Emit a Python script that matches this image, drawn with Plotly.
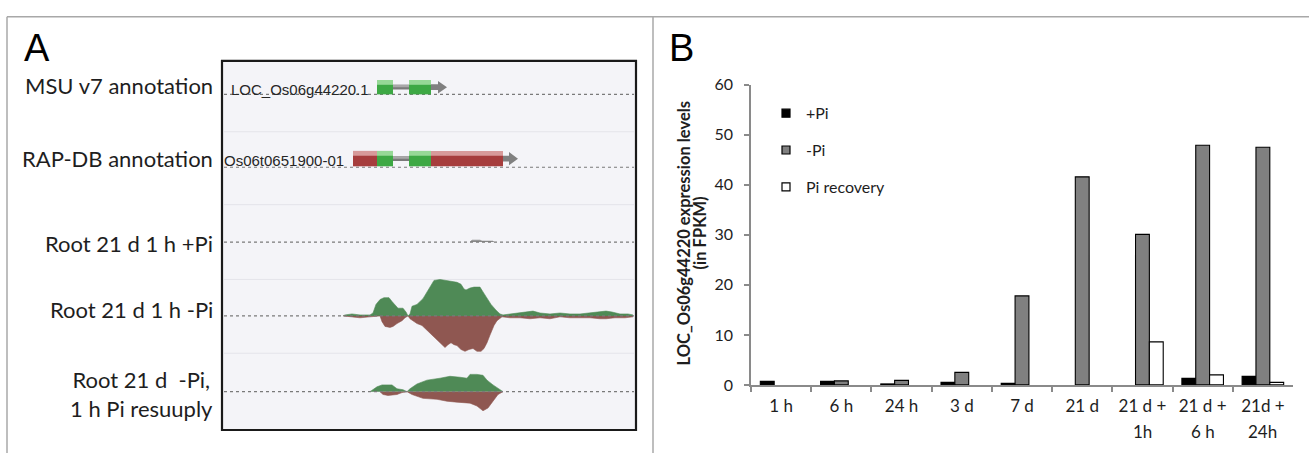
import plotly.graph_objects as go

W, H = 1309, 462

# ---------------- Panel B data ----------------
CATEGORIES = ["1 h", "6 h", "24 h", "3 d", "7 d", "21 d", "21 d +|1h", "21 d +|6 h", "21d +|24h"]
PLUS_PI = [0.7, 0.7, 0.2, 0.5, 0.3, 0.0, 0.0, 1.3, 1.7]
MINUS_PI = [0.0, 0.8, 0.9, 2.5, 17.8, 41.6, 30.1, 47.9, 47.5]
PI_RECOVERY = [0.0, 0.0, 0.0, 0.0, 0.0, 0.0, 8.6, 2.0, 0.5]
SERIES_NAMES = ["+Pi", "-Pi", "Pi recovery"]
Y_TICKS = [0, 10, 20, 30, 40, 50, 60]

# ---------------- Panel A data ----------------
TRACK_LABELS = ["MSU v7 annotation", "RAP-DB annotation", "Root 21 d 1 h +Pi",
                "Root 21 d 1 h -Pi", "Root 21 d  -Pi,<br>1 h Pi resuuply"]
MSU_NAME = "LOC_Os06g44220.1"
RAP_NAME = "Os06t0651900-01"
# exons: (start, end, kind) in browser position units
MSU_EXONS = [(377, 393, "cds"), (409, 431, "cds")]
RAP_EXONS = [(353, 377, "utr"), (377, 393, "cds"), (409, 431, "cds"), (431, 503, "utr")]

# coverage, Root 21 d 1 h -Pi (forward strand, green)
MPI_FWD_POS = [343, 345, 352, 360, 370, 373, 376, 380, 384, 389, 392, 395, 398, 403, 406, 408,
               410, 412, 417, 423, 428, 432, 434, 440, 445, 448, 452, 457, 461, 464, 466, 470,
               474, 480, 483, 487, 491, 496, 500, 503, 510, 518, 527, 533, 540, 550, 560, 570,
               580, 590, 600, 606, 612, 620, 628, 633]
MPI_FWD_COV = [0, 1, 2, 1, 1, 3, 12, 17, 19, 19, 15, 11, 8, 8, 4, 0,
               2, 10, 12, 18, 27, 34, 37, 38, 37, 37, 36, 35, 33, 28, 27, 29,
               30, 30, 25, 18, 12, 6, 2, 1, 2, 3, 4, 5, 3, 2, 3, 2,
               2, 3, 4, 5, 4, 2, 2, 1]
# reverse strand (red)
MPI_REV_POS = [343, 350, 360, 370, 380, 382, 385, 390, 393, 397, 402, 405, 408, 410, 413, 417,
               422, 427, 430, 433, 438, 441, 445, 448, 451, 454, 457, 461, 465, 469, 473, 477,
               481, 484, 487, 490, 494, 497, 502, 510, 520, 530, 540, 550, 560, 570, 580, 590,
               600, 606, 615, 625, 633]
MPI_REV_COV = [0, 1, 2, 1, 0, 6, 11, 12, 11, 8, 5, 2, 0, 3, 5, 8,
               10, 15, 17, 21, 25, 28, 33, 30, 28, 30, 31, 35, 37, 35, 34, 37,
               37, 34, 28, 20, 10, 5, 1, 2, 2, 3, 2, 3, 1, 2, 2, 2,
               3, 3, 2, 2, 1]
# coverage, Root 21 d -Pi, 1 h Pi resupply
RES_FWD_POS = [370, 377, 382, 392, 397, 403, 407, 410, 417, 427, 440, 450, 460, 467, 470, 477,
               483, 487, 493, 500, 503]
RES_FWD_COV = [0, 5, 7, 7, 3, 2, 0, 3, 8, 12, 14, 16, 15, 14, 18, 18,
               17, 12, 7, 2, 0]
RES_REV_POS = [380, 383, 388, 397, 402, 407, 412, 423, 437, 447, 457, 470, 477, 483, 488, 493,
               498, 503]
RES_REV_COV = [0, 3, 4, 3, 1, 0, 3, 7, 8, 10, 11, 12, 15, 20, 17, 10,
               3, 0]
# coverage, Root 21 d 1 h +Pi
PPI_POS = [470, 472, 480, 482, 493, 494]
PPI_COV = [0, 2, 2, 1, 1, 0]


def px(p):
    return p / W


def py(p):
    return 1 - p / H


GREEN_COV = "#4f8a56"
RED_COV = "#8f5751"
BOX = (222, 53, 636, 438)
BASELINES = {"msu": 88, "rap": 164, "ppi": 242, "mpi": 319, "res": 398}
HALF = 40

fig = go.Figure()


def cov_axis(base):
    return dict(domain=[py(base + HALF), py(base - HALF)], range=[-HALF, HALF],
                visible=False, anchor="x", fixedrange=True)


def cov_trace(pos, cov, axis, color, sign=1):
    return go.Scatter(x=pos, y=[sign * v for v in cov], xaxis="x", yaxis=axis, mode="lines",
                      fill="tozeroy", fillcolor=color,
                      line=dict(width=0.6, color=color), showlegend=False, hoverinfo="skip")


fig.add_trace(cov_trace(MPI_FWD_POS, MPI_FWD_COV, "y3", GREEN_COV))
fig.add_trace(cov_trace(MPI_REV_POS, MPI_REV_COV, "y3", RED_COV, -1))
fig.add_trace(cov_trace(RES_FWD_POS, RES_FWD_COV, "y4", GREEN_COV))
fig.add_trace(cov_trace(RES_REV_POS, RES_REV_COV, "y4", RED_COV, -1))
fig.add_trace(cov_trace(PPI_POS, PPI_COV, "y5", "#8a8a8a"))

# ---------- bars ----------
tick_top = [c.split("|")[0] for c in CATEGORIES]
tick_bottom = [c.split("|")[1] if "|" in c else "" for c in CATEGORIES]
BAR_COLORS = ["#000000", "#808080", "#ffffff"]
for name, vals, col in zip(SERIES_NAMES, [PLUS_PI, MINUS_PI, PI_RECOVERY], BAR_COLORS):
    shown = [v if v > 0 else None for v in vals]
    fig.add_trace(go.Bar(x=CATEGORIES, y=shown, name=name, xaxis="x2", yaxis="y2",
                         marker=dict(color=col, line=dict(color="#000000", width=1.1)),
                         showlegend=False))
    fig.add_trace(go.Scatter(x=[None], y=[None], mode="markers", name=name, xaxis="x2", yaxis="y2",
                             legendgroup=name,
                             marker=dict(symbol="square", size=8, color=col,
                                         line=dict(color="#000000", width=1.2))))

shapes = []
FRAME = "#a8a8a8"
shapes.append(dict(type="line", xref="paper", yref="paper", x0=px(7), x1=1, y0=py(7), y1=py(7),
                   line=dict(color=FRAME, width=1.5)))
shapes.append(dict(type="line", xref="paper", yref="paper", x0=px(7), x1=px(7), y0=0, y1=py(7),
                   line=dict(color=FRAME, width=1.5)))
shapes.append(dict(type="line", xref="paper", yref="paper", x0=px(653), x1=px(653), y0=0, y1=py(7),
                   line=dict(color=FRAME, width=1.5)))
shapes.append(dict(type="rect", xref="paper", yref="paper", x0=px(BOX[0]), x1=px(BOX[2]),
                   y0=py(BOX[3]), y1=py(BOX[1]), fillcolor="#f4f4f8",
                   line=dict(color="#1a1a1a", width=2.2), layer="below"))
for sep in [127, 203, 281, 358]:
    shapes.append(dict(type="line", xref="paper", yref="paper", x0=px(BOX[0] + 2), x1=px(BOX[2] - 2),
                       y0=py(sep), y1=py(sep), line=dict(color="#e4e4ea", width=1), layer="below"))
for key, b in BASELINES.items():
    shapes.append(dict(type="line", xref="paper", yref="paper", x0=px(BOX[0] + 2), x1=px(BOX[2] - 2),
                       y0=py(b), y1=py(b), line=dict(color="#7a7a7a", width=1.2, dash="dot"),
                       layer="above"))

COLORS = {"cds": ("#3da844", "#96d896"), "utr": ("#a63d3d", "#d79a9a")}


def gene_model(exons, top, bottom, arrow_end):
    mid = (top + bottom) / 2
    s = []
    first, last = exons[0][0], exons[-1][1]
    s.append(dict(type="rect", xref="x", yref="paper", x0=first, x1=last,
                  y0=py(mid + 2.5), y1=py(mid - 2.5), fillcolor="#7a7a7a", line=dict(width=0)))
    s.append(dict(type="rect", xref="x", yref="paper", x0=first, x1=last,
                  y0=py(mid), y1=py(mid - 2.5), fillcolor="#a8a8a8", line=dict(width=0)))
    head_base = arrow_end - 9
    s.append(dict(type="path", xref="x", yref="paper",
                  path=f"M{last},{py(mid - 3)} L{head_base},{py(mid - 3)} L{head_base},{py(top + 1)} "
                       f"L{arrow_end},{py(mid)} L{head_base},{py(bottom - 1)} L{head_base},{py(mid + 3)} "
                       f"L{last},{py(mid + 3)} Z",
                  fillcolor="#808080", line=dict(width=0)))
    for (a, b_, kind) in exons:
        dark, light = COLORS[kind]
        s.append(dict(type="rect", xref="x", yref="paper", x0=a, x1=b_, y0=py(bottom), y1=py(top),
                      fillcolor=dark, line=dict(width=0)))
        s.append(dict(type="rect", xref="x", yref="paper", x0=a, x1=b_, y0=py(top + 5), y1=py(top),
                      fillcolor=light, line=dict(width=0)))
    return s


shapes += gene_model(MSU_EXONS, 73, 88, 447)
shapes += gene_model(RAP_EXONS, 147, 163, 518)

annotations = []
LABEL_FONT = dict(family="Lato", size=22, color="#1e1e1e")
label_pos = [(215, 79, "right"), (215, 155, "right"), (215, 244, "right"),
             (215, 312, "right"), (141, 400, "center")]
for text, (x, y, anc) in zip(TRACK_LABELS, label_pos):
    annotations.append(dict(text=text, x=px(x), y=py(y), xref="paper", yref="paper",
                            xanchor=anc, yanchor="middle", align="center", showarrow=False,
                            font=LABEL_FONT))
annotations.append(dict(text=MSU_NAME, x=px(229), y=py(82.5), xref="paper", yref="paper",
                        xanchor="left", yanchor="middle", showarrow=False,
                        font=dict(family="Liberation Sans", size=15, color="#262626")))
annotations.append(dict(text=RAP_NAME, x=px(222), y=py(156.5), xref="paper", yref="paper",
                        xanchor="left", yanchor="middle", showarrow=False,
                        font=dict(family="Liberation Sans", size=15, color="#262626")))
annotations.append(dict(text="A", x=px(22), y=py(40), xref="paper", yref="paper", xanchor="left",
                        yanchor="middle", showarrow=False,
                        font=dict(family="Liberation Sans", size=38, color="#000000")))
annotations.append(dict(text="B", x=px(667), y=py(40), xref="paper", yref="paper", xanchor="left",
                        yanchor="middle", showarrow=False,
                        font=dict(family="Liberation Sans", size=38, color="#000000")))
annotations.append(dict(text="<b>LOC_Os06g44220 expression levels</b>", x=px(684), y=py(233),
                        xref="paper", yref="paper", textangle=-90, showarrow=False,
                        font=dict(family="Lato", size=16.5, color="#1e1e1e")))
annotations.append(dict(text="<b>(in FPKM)</b>", x=px(700), y=py(233),
                        xref="paper", yref="paper", textangle=-90, showarrow=False,
                        font=dict(family="Lato", size=16.5, color="#1e1e1e")))
for cat, t in zip(CATEGORIES, tick_bottom):
    if t:
        annotations.append(dict(text=t, x=cat, y=py(440), xref="x2", yref="paper",
                                xanchor="center", yanchor="middle", showarrow=False,
                                font=dict(family="Lato", size=17, color="#1e1e1e")))

AXIS_GRAY = "#8a8a8a"
fig.update_layout(
    width=W, height=H, margin=dict(l=0, r=0, t=0, b=0),
    paper_bgcolor="#ffffff", plot_bgcolor="rgba(0,0,0,0)",
    barmode="group", bargap=0.31, bargroupgap=0.0,
    shapes=shapes, annotations=annotations,
    xaxis=dict(domain=[px(BOX[0]), px(BOX[2])], range=[BOX[0], BOX[2]], visible=False,
               anchor="y", fixedrange=True),
    yaxis=dict(domain=[py(BOX[3]), py(BOX[1])], range=[BOX[3], BOX[1]], visible=False,
               anchor="x", fixedrange=True),
    yaxis3=cov_axis(BASELINES["mpi"]),
    yaxis4=cov_axis(BASELINES["res"]),
    yaxis5=cov_axis(BASELINES["ppi"]),
    xaxis2=dict(domain=[px(751), px(1293)], anchor="y2", type="category",
                tickmode="array", tickvals=CATEGORIES, ticktext=tick_top,
                tickson="boundaries", ticks="outside", ticklen=5, tickwidth=1.5,
                tickcolor=AXIS_GRAY, showline=True, linecolor=AXIS_GRAY, linewidth=1.5,
                showgrid=False, zeroline=False, ticklabelstandoff=5,
                tickfont=dict(family="Lato", size=17, color="#1e1e1e")),
    yaxis2=dict(domain=[py(391), py(78)], anchor="x2", range=[0, 60], tickvals=Y_TICKS,
                ticks="outside", ticklen=5, tickwidth=1.5, tickcolor=AXIS_GRAY,
                showline=True, linecolor=AXIS_GRAY, linewidth=1.5, showgrid=False,
                zeroline=False, ticklabelstandoff=8,
                tickfont=dict(family="Lato", size=16, color="#1e1e1e")),
    legend=dict(x=px(766), y=py(90), xanchor="left", yanchor="top", bgcolor="rgba(0,0,0,0)",
                font=dict(family="Lato", size=16, color="#1e1e1e"), tracegroupgap=13,
                traceorder="grouped"),
    showlegend=True,
)

fig.write_html("out.html", config={"displayModeBar": False},
               post_script="document.body.style.margin='0px';"
                           "document.documentElement.style.overflow='hidden';")
